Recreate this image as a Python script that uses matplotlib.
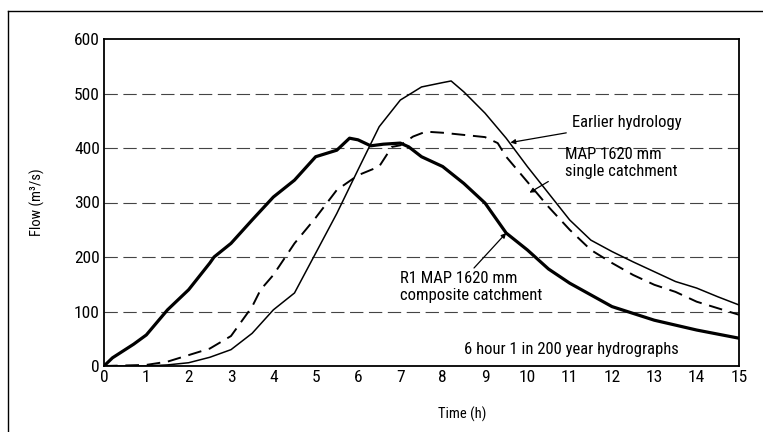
import matplotlib
matplotlib.use('Agg')
import matplotlib.pyplot as plt
from matplotlib.lines import Line2D

plt.rcParams['font.family'] = ['Roboto Condensed', 'DejaVu Sans']

# R1 MAP 1620 mm composite catchment (thick)
t_comp = [0, 0.2, 0.7, 1.0, 1.5, 2.0, 2.5, 2.6, 3.0, 3.5, 4.0, 4.5, 5.0, 5.5, 5.8, 6.0,
          6.3, 6.6, 7.0, 7.2, 7.5, 8.0, 8.5, 9.0, 9.5, 10.0, 10.5, 11.0, 12.0, 13.0, 14.0, 15.0]
q_comp = [0, 15, 40, 57, 103, 140, 189, 200, 225, 268, 310, 341, 384, 396, 418, 415,
          404, 407, 409, 402, 384, 366, 335, 299, 244, 213, 178, 152, 109, 84, 66, 51]

# Earlier hydrology (thin solid)
t_early = [0, 1.0, 1.5, 2.0, 2.5, 3.0, 3.5, 4.0, 4.5, 5.0, 5.5, 6.0, 6.5, 7.0, 7.5, 8.0,
           8.2, 8.5, 9.0, 9.5, 10.0, 10.5, 11.0, 11.5, 12.0, 12.5, 13.0, 13.5, 14.0, 14.5, 15.0]
q_early = [0, 0, 2, 6, 16, 30, 60, 103, 134, 207, 280, 360, 439, 488, 512, 520,
           523, 503, 464, 418, 366, 317, 268, 231, 210, 191, 173, 155, 143, 127, 112]

# MAP 1620 mm single catchment (dashed)
t_single = [0, 1.0, 1.5, 2.0, 2.5, 3.0, 3.5, 3.7, 4.0, 4.5, 5.0, 5.5, 6.0, 6.5, 6.8, 7.0,
            7.3, 7.6, 8.0, 8.5, 9.0, 9.3, 9.5, 10.0, 10.5, 11.0, 11.5, 12.0, 12.5, 13.0,
            13.5, 14.0, 14.5, 15.0]
q_single = [0, 2, 8, 20, 32, 55, 109, 140, 167, 225, 272, 323, 350, 366, 402, 405,
            421, 430, 428, 424, 420, 409, 384, 338, 292, 250, 213, 189, 167, 149,
            136, 118, 106, 94]

x_ticks = list(range(0, 16))
y_ticks = [0, 100, 200, 300, 400, 500, 600]

fig = plt.figure(figsize=(7.63, 4.32), dpi=100)
ax = fig.add_axes([104 / 763, 1 - 366 / 432, 635 / 763, 327 / 432])

for y in y_ticks[1:-1]:
    ax.axhline(y, color='#444444', lw=0.8, ls=(0, (12, 5)), zorder=1)

ax.plot(t_comp, q_comp, color='black', lw=2.3, zorder=3, solid_joinstyle='round')
ax.plot(t_early, q_early, color='black', lw=1.1, zorder=3, solid_joinstyle='round')
ax.plot(t_single, q_single, color='black', lw=1.4, ls=(0, (7, 4)), zorder=3)

ax.set_xlim(0, 15)
ax.set_ylim(0, 600)
ax.set_xticks(x_ticks)
ax.set_yticks(y_ticks)
ax.tick_params(axis='both', length=0, labelsize=12.5, pad=3)
for s in ax.spines.values():
    s.set_linewidth(1.3)

ax.set_ylabel('Flow (m³/s)', fontsize=10.5, labelpad=21)
ax.set_xlabel('Time (h)', fontsize=10.5)
ax.xaxis.set_label_coords(0.564, -0.125)

fs = 12
ax.annotate('Earlier hydrology', xy=(9.6, 410), xytext=(11.05, 447),
            fontsize=fs, va='center', ha='left',
            arrowprops=dict(arrowstyle='-|>', color='black', lw=0.9, mutation_scale=7,
                            shrinkA=2, shrinkB=0))
ax.annotate('MAP 1620 mm\nsingle catchment', xy=(10.05, 318), xytext=(10.9, 372),
            fontsize=fs, va='center', ha='left', linespacing=1.2,
            arrowprops=dict(arrowstyle='-|>', color='black', lw=0.9, mutation_scale=7,
                            shrinkA=12, shrinkB=0, relpos=(0, 0.25)))
ax.annotate('R1 MAP 1620 mm\ncomposite catchment', xy=(9.5, 244), xytext=(7.0, 145),
            fontsize=fs, va='center', ha='left', linespacing=1.2,
            arrowprops=dict(arrowstyle='-|>', color='black', lw=0.9, mutation_scale=7,
                            shrinkA=0, shrinkB=0, relpos=(0.5, 1.0)))
ax.text(11.03, 31, '6 hour 1 in 200 year hydrographs', fontsize=fs, ha='center', va='center')

# outer frame of the printed figure
fig.add_artist(Line2D([8 / 763, 8 / 763], [0, 1 - 11 / 432], color='black', lw=1.0,
                      transform=fig.transFigure))
fig.add_artist(Line2D([8 / 763, 1], [1 - 11 / 432, 1 - 11 / 432], color='black', lw=1.0,
                      transform=fig.transFigure))

fig.savefig('out.png', dpi=100)
plt.close(fig)
